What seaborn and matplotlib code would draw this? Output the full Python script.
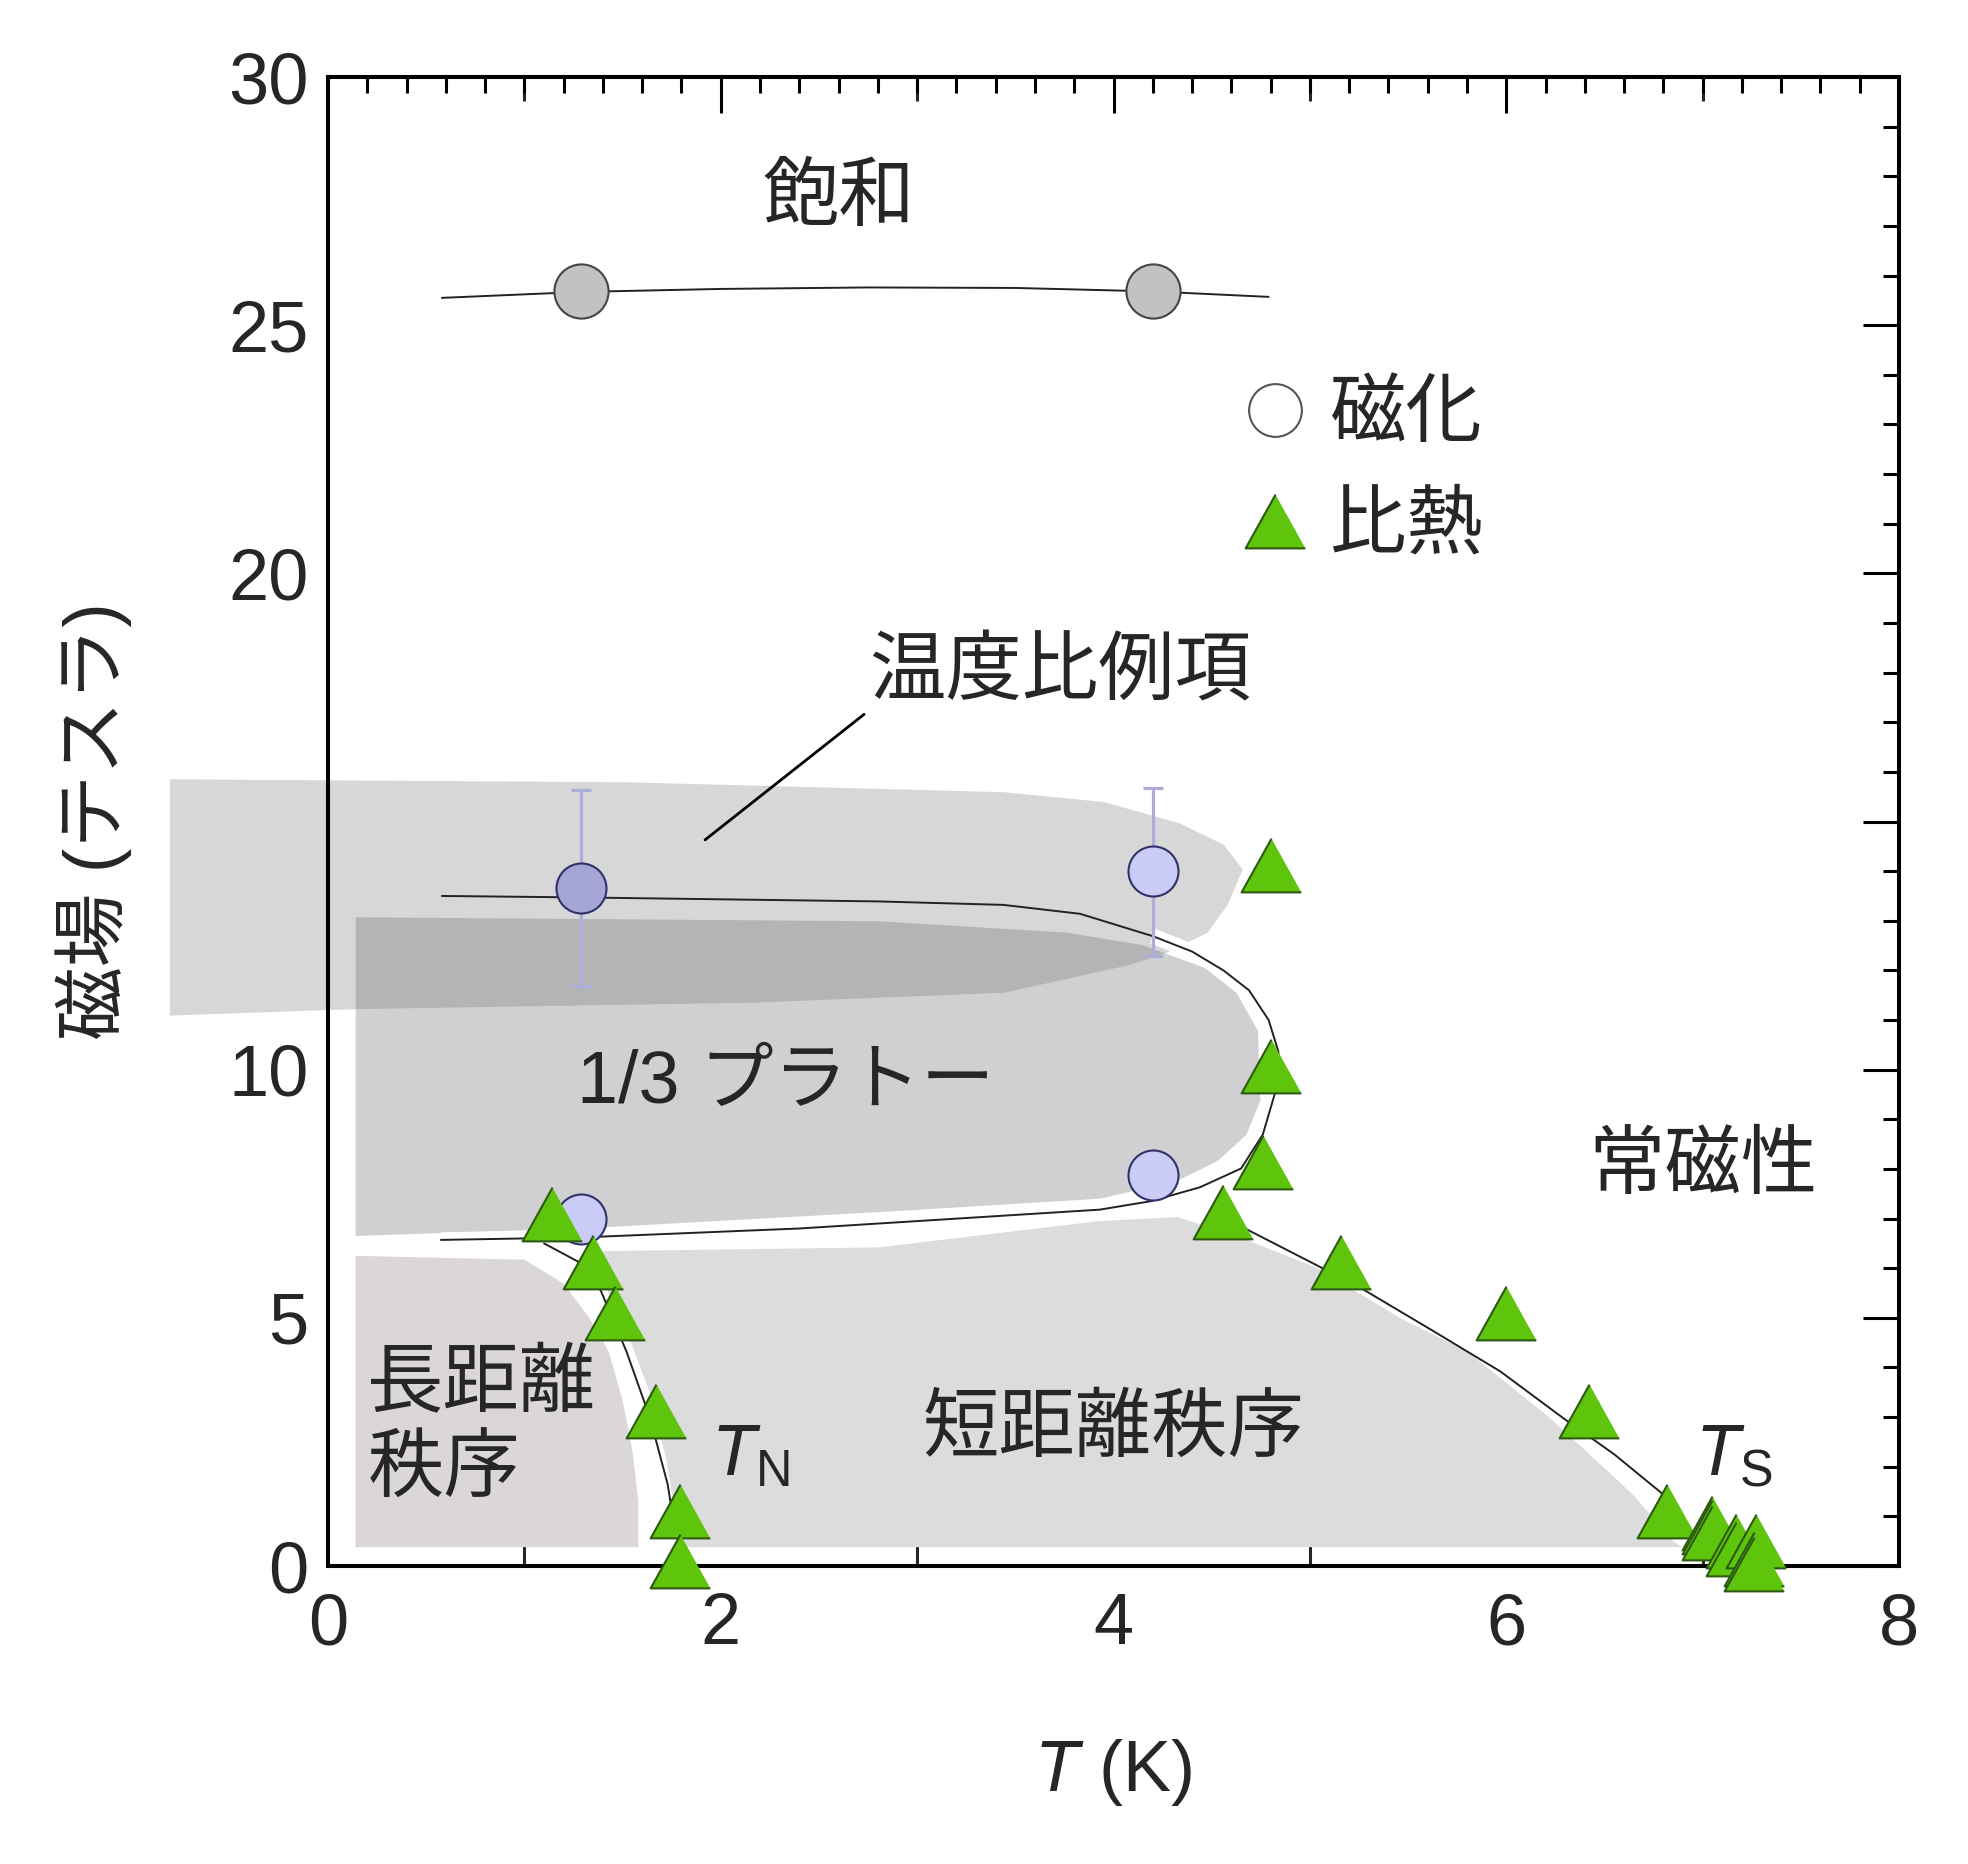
import numpy as np
import pandas as pd
import seaborn as sns
import matplotlib.pyplot as plt
from matplotlib.lines import Line2D
from matplotlib.ticker import MultipleLocator

sns.set_style('white')
plt.rcParams['font.family'] = ['Liberation Sans', 'Noto Sans CJK JP']
plt.rcParams['mathtext.fontset'] = 'custom'
plt.rcParams['mathtext.rm'] = 'Liberation Sans'
plt.rcParams['mathtext.it'] = 'Liberation Sans:italic'

# 飽和 (gray circles + guide line)
sat_T = [1.29, 4.2]
sat_B = [25.68, 25.68]
sat_line_T = [0.58, 1.29, 2.0, 2.75, 3.5, 4.2, 4.79]
sat_line_B = [25.55, 25.67, 25.73, 25.76, 25.75, 25.68, 25.57]

# 磁化 (circles)
mag_T = [1.29, 4.2, 4.2, 1.29]
mag_B = [13.67, 14.0, 7.88, 7.0]
err_T = [1.29, 4.2]
err_B = [13.67, 14.0]
err_lo = [1.99, 1.70]
err_hi = [1.97, 1.67]

# 比熱 (triangles)
heat_T = [1.14, 1.35, 1.46, 1.67, 1.79, 1.79,
          4.80, 4.80, 4.76, 4.56,
          5.16, 6.00, 6.42, 6.82,
          7.05, 7.05, 7.05, 7.17, 7.17, 7.27, 7.26, 7.26]
heat_B = [7.10, 6.12, 5.10, 3.13, 1.11, 0.10,
          14.13, 10.08, 8.14, 7.13,
          6.12, 5.10, 3.13, 1.11,
          0.86, 0.79, 0.67, 0.50, 0.34, 0.50, 0.14, 0.04]

# phase boundaries
c_T = [0.58, 1.29, 2.8, 3.44, 3.83, 4.2, 4.4, 4.56, 4.69, 4.79, 4.84, 4.84,
       4.83, 4.76, 4.65, 4.44, 4.19, 3.93, 2.4, 1.29, 0.575]
c_B = [13.5, 13.47, 13.39, 13.32, 13.14, 12.69, 12.38, 12.0, 11.6, 11.0, 10.36,
       10.0, 9.63, 8.69, 8.01, 7.63, 7.35, 7.18, 6.8, 6.62, 6.57]
tn_T = [1.10, 1.27, 1.39, 1.52, 1.64, 1.73, 1.77]
tn_B = [6.50, 6.14, 5.54, 4.32, 2.98, 1.64, 0.63]
ts_T = [4.62, 4.68, 5.02, 5.26, 5.63, 5.97, 6.29, 6.55, 6.80]
ts_B = [6.95, 6.78, 6.09, 5.60, 4.73, 3.92, 2.98, 2.25, 1.44]

# shaded regions
band_T = [-0.805, 1.527, 3.444, 3.955, 4.339, 4.562, 4.658, 4.581, 4.479,
          4.275, 4.083, 3.444, 2.166, 0.141, -0.805]
band_B = [15.85, 15.79, 15.59, 15.39, 14.96, 14.53, 14.03, 13.32, 12.76,
          12.36, 12.11, 11.55, 11.35, 11.22, 11.09]
plat_T = [0.141, 2.805, 3.764, 4.147, 4.466, 4.626, 4.735, 4.748, 4.677,
          4.53, 4.326, 3.93, 2.805, 1.29, 0.141]
plat_B = [13.07, 12.99, 12.76, 12.51, 12.05, 11.55, 10.79, 9.38, 8.69,
          8.16, 7.76, 7.4, 7.13, 6.8, 6.65]
long_T = [0.14, 0.14, 1.0, 1.2, 1.33, 1.43, 1.50, 1.55, 1.58, 1.58]
long_B = [0.38, 6.25, 6.17, 5.69, 5.0, 4.32, 3.34, 2.33, 1.31, 0.38]
short_T = [1.323, 2.805, 3.93, 4.326, 4.613, 5.035, 5.457, 5.802, 6.224,
           6.645, 6.85, 6.895, 1.783, 1.764, 1.719, 1.642, 1.546, 1.431]
short_B = [6.34, 6.42, 6.95, 7.03, 6.67, 6.01, 5.0, 4.32, 2.98,
           1.44, 0.5, 0.38, 0.38, 1.19, 2.2, 3.46, 4.47, 5.48]

green = '#5ec40c'
dkgreen = '#2c5a12'
tri = [(0, 0.9), (-1, -0.9), (1, -0.9)]
cjk = ['Noto Sans CJK JP']
mixed = ['Liberation Sans', 'Noto Sans CJK JP']

fig = plt.figure(figsize=(19.68, 18.64), dpi=100)
ax = fig.add_axes([0.16667, 0.15987, 0.79827, 0.79882])

ax.fill(band_T, band_B, color='#d7d7d7', lw=0, zorder=1, clip_on=False)
ax.fill(long_T, long_B, color='#dbd7d7', lw=0, zorder=1)
ax.fill(short_T, short_B, color='#dcdcdc', lw=0, zorder=1)
ax.fill(plat_T, plat_B, color=(100/255, 100/255, 108/255), alpha=0.3, lw=0, zorder=1.5)

# white halo along the plateau boundary
ax.plot(c_T[5:], c_B[5:], color='white', lw=11, solid_capstyle='butt', zorder=2)

line_kw = dict(color='#222222', lw=1.4, zorder=3)
sns.lineplot(x=sat_line_T, y=sat_line_B, sort=False, estimator=None, ax=ax, **line_kw)
sns.lineplot(x=c_T, y=c_B, sort=False, estimator=None, ax=ax, **line_kw)
sns.lineplot(x=tn_T, y=tn_B, sort=False, estimator=None, ax=ax, **line_kw)
sns.lineplot(x=ts_T, y=ts_B, sort=False, estimator=None, ax=ax, **line_kw)

ax.errorbar(err_T, err_B, yerr=[err_lo, err_hi], fmt='none', ecolor='#adadd9',
            elinewidth=2.3, capsize=7, capthick=2.3, zorder=3.5)

ax.plot(sat_T, sat_B, ls='none', marker='o', ms=39, mfc='#c2c2c2', mec='#444444',
        mew=1.5, zorder=4)
mag_face = ['#a6a6d6', '#cbcbf7', '#cbcbf7', '#cbcbf7']
for t, b, fc in zip(mag_T, mag_B, mag_face):
    ax.plot(t, b, ls='none', marker='o', ms=36, mfc=fc, mec='#30306a', mew=1.5, zorder=4)
ax.plot(heat_T, heat_B, ls='none', marker=tri, ms=43, mfc=green, mec=dkgreen,
        mew=1.5, zorder=4.2, clip_on=False)

ax.set_xlim(0, 8)
ax.set_ylim(0, 30)

# texts
fs = 55
ax.text(2.6, 27.55, '飽和', family=cjk, fontsize=fs, ha='center', va='center')
ax.text(3.73, 18.0, '温度比例項', family=cjk, fontsize=fs, ha='center', va='center')
ax.plot([2.73, 1.92], [17.16, 14.63], color='black', lw=2, zorder=5)
ax.text(2.33, 9.73, '1/3 プラトー', family=mixed, fontsize=53, ha='center', va='center', zorder=5)
ax.text(7.0, 8.06, '常磁性', family=cjk, fontsize=fs, ha='center', va='center')
ax.text(0.2, 2.8, '長距離\n秩序', family=cjk, fontsize=fs, ha='left', va='center',
        linespacing=1.1, zorder=5)
ax.text(4.0, 2.75, '短距離秩序', family=cjk, fontsize=fs, ha='center', va='center', zorder=5)
ax.text(2.15, 2.2, r'$T_\mathrm{N}$', fontsize=52, ha='center', va='center', zorder=5)
ax.text(7.16, 2.2, r'$T_\mathrm{S}$', fontsize=52, ha='center', va='center', zorder=5)

h_mag = Line2D([], [], ls='none', marker='o', ms=38, mfc='white', mec='#555555', mew=1.5)
h_heat = Line2D([], [], ls='none', marker=tri, ms=43, mfc=green, mec=dkgreen, mew=1.5)
ax.legend([h_mag, h_heat], ['磁化', '比熱'], loc='upper left', bbox_to_anchor=(4.63, 24.0),
          bbox_transform=ax.transData, frameon=False, prop=dict(family=cjk, size=fs),
          handlelength=1.0, handletextpad=0.22, labelspacing=0.42, borderpad=0,
          borderaxespad=0)

# axes styling
for sp in ax.spines.values():
    sp.set_linewidth(2.9)
    sp.set_color('black')
ax.xaxis.set_major_locator(MultipleLocator(2))
ax.xaxis.set_minor_locator(MultipleLocator(0.2))
ax.yaxis.set_major_locator(MultipleLocator(5))
ax.yaxis.set_minor_locator(MultipleLocator(1))
ax.tick_params(which='both', direction='in', top=True, right=True, width=2.2,
               color='black', labelsize=52)
ax.tick_params(which='major', length=26)
ax.tick_params(which='minor', length=11.5)
ax.tick_params(axis='x', pad=19)
ax.tick_params(axis='y', pad=14)

for side in ['bottom', 'top']:
    sec = ax.secondary_xaxis(side)
    sec.set_xticks([1, 3, 5, 7])
    sec.tick_params(direction='in', length=17, width=2.2, labelbottom=False,
                    labeltop=False)
    sec.spines[side].set_linewidth(2.9)

ax.set_xlabel(r'$\mathit{T}$ (K)', fontsize=52)
ax.set_ylabel('磁場 (テスラ)', fontsize=53, family=mixed)
ax.xaxis.set_label_coords(0.5, -0.115)
ax.yaxis.set_label_coords(-0.125, 0.5)

fig.savefig('out.png', dpi=100)
